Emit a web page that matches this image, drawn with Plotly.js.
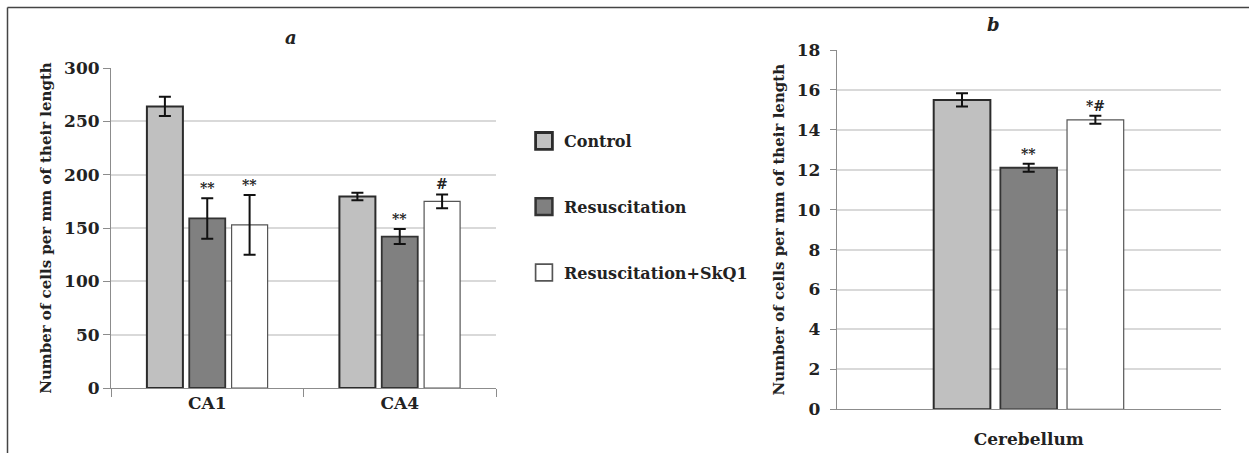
<!DOCTYPE html>
<html><head><meta charset="utf-8">
<script src="https://cdn.plot.ly/plotly-3.0.1.min.js"></script>
<style>html,body{margin:0;padding:0;background:#fff}#chart{width:1249px;height:453px}</style>
</head><body><div id="chart"></div>
<script>
// ---- data ----
const seriesNames = ['Control', 'Resuscitation', 'Resuscitation+SkQ1'];

const regionsA = ['CA1', 'CA4'];
const controlA = [264, 179.5];
const controlAErr = [9, 3.5];
const resusA = [159, 142];
const resusAErr = [19, 7];
const skq1A = [153, 175];
const skq1AErr = [28, 6.5];
const sigControlA = ['', ''];
const sigResusA = ['**', '**'];
const sigSkq1A = ['**', '#'];

const regionsB = ['Cerebellum'];
const controlB = [15.5];
const controlBErr = [0.33];
const resusB = [12.1];
const resusBErr = [0.2];
const skq1B = [14.5];
const skq1BErr = [0.2];
const sigControlB = [''];
const sigResusB = ['**'];
const sigSkq1B = ['*#'];

const yTicksA = [0, 50, 100, 150, 200, 250, 300];
const yTicksB = [0, 2, 4, 6, 8, 10, 12, 14, 16, 18];

const panelTitleA = 'a';
const panelTitleB = 'b';
const yTitle = 'Number of cells per mm of their length';

// ---- styles ----
const FONT = 'DejaVu Serif';
const fills = ['#c0c0c0', '#808080', '#ffffff'];
const outlines = ['#2b2b2b', '#333333', '#555555'];
const outlineW = [2, 1.8, 1.2];
const BARGAP = 0.34, GROUPGAP = 0.15;
const slot = (1 - BARGAP) / 3;

function barTrace(i, cats, vals, errs, xa, ya, showLegend) {
  return {
    type: 'bar', name: seriesNames[i], x: cats, y: vals,
    xaxis: xa, yaxis: ya, legendgroup: 'g' + i, showlegend: showLegend,
    marker: {color: fills[i], line: {color: outlines[i], width: outlineW[i]}},
    error_y: {type: 'data', array: errs, visible: true, color: '#111', thickness: 2, width: 6},
    hoverinfo: 'x+y'
  };
}

const traces = [
  barTrace(0, regionsA, controlA, controlAErr, 'x', 'y', true),
  barTrace(1, regionsA, resusA, resusAErr, 'x', 'y', true),
  barTrace(2, regionsA, skq1A, skq1AErr, 'x', 'y', true),
  barTrace(0, regionsB, controlB, controlBErr, 'x2', 'y2', false),
  barTrace(1, regionsB, resusB, resusBErr, 'x2', 'y2', false),
  barTrace(2, regionsB, skq1B, skq1BErr, 'x2', 'y2', false)
];

// significance marks above the error bars
const annotations = [];
function addSig(cats, vals, errs, sig, seriesIdx, xa, ya) {
  cats.forEach((c, k) => {
    if (!sig[k]) return;
    annotations.push({
      xref: xa, yref: ya, x: k + (seriesIdx - 1) * slot, y: vals[k] + errs[k],
      text: sig[k], showarrow: false, yanchor: 'bottom', xanchor: 'center', yshift: 0,
      font: {family: FONT, size: 14, color: '#222', weight: 'bold'}
    });
  });
}
addSig(regionsA, resusA, resusAErr, sigResusA, 1, 'x', 'y');
addSig(regionsA, skq1A, skq1AErr, sigSkq1A, 2, 'x', 'y');
addSig(regionsB, resusB, resusBErr, sigResusB, 1, 'x2', 'y2');
addSig(regionsB, skq1B, skq1BErr, sigSkq1B, 2, 'x2', 'y2');

annotations.push({xref: 'paper', yref: 'paper', x: 291 / 1249, y: 1 - 38 / 453, text: panelTitleA,
  xanchor: 'center', yanchor: 'middle',
  showarrow: false, font: {family: FONT, size: 18, style: 'italic', weight: 'bold', color: '#222'}});
annotations.push({xref: 'paper', yref: 'paper', x: 993 / 1249, y: 1 - 24 / 453, text: panelTitleB,
  xanchor: 'center', yanchor: 'middle',
  showarrow: false, font: {family: FONT, size: 18, style: 'italic', weight: 'bold', color: '#222'}});

const AX = '#8c8c8c', GRID = '#d9d9d9';
const yCommon = {
  showline: true, linecolor: AX, linewidth: 1, ticks: 'outside', ticklen: 7, tickcolor: AX,
  showgrid: true, gridcolor: GRID, gridwidth: 1.5, zeroline: false,
  tickfont: {family: FONT, size: 17, color: '#222', weight: 'bold'},
  title: {text: yTitle, font: {family: FONT, size: 15, color: '#222', weight: 'bold'}, standoff: 8}
};

const layout = {
  width: 1249, height: 453,
  margin: {l: 0, r: 0, t: 0, b: 0},
  paper_bgcolor: '#fff', plot_bgcolor: '#fff',
  font: {family: FONT, color: '#222', weight: 'bold'},
  barmode: 'group', bargap: BARGAP, bargroupgap: GROUPGAP,
  showlegend: true,
  legend: {x: 524 / 1249, y: 1 - 124 / 453, xanchor: 'left', yanchor: 'top',
    font: {family: FONT, size: 16, color: '#222', weight: 'bold'},
    traceorder: 'grouped', tracegroupgap: 42, bgcolor: 'rgba(0,0,0,0)'},
  xaxis: {domain: [111 / 1249, 496 / 1249], anchor: 'y', type: 'category',
    showline: true, linecolor: AX, ticks: 'outside', tickson: 'boundaries', ticklen: 8, tickcolor: AX,
    showgrid: false, tickfont: {family: FONT, size: 17, color: '#222', weight: 'bold'}},
  yaxis: Object.assign({}, yCommon, {domain: [1 - 388 / 453, 1 - 68 / 453], anchor: 'x',
    range: [0, 300], tickvals: yTicksA}),
  xaxis2: {domain: [836.7 / 1249, 1220.7 / 1249], anchor: 'y2', type: 'category',
    range: [-0.6336, 0.6336], showline: true, linecolor: AX, ticks: '', showgrid: false,
    ticklabelstandoff: 14,
    tickfont: {family: FONT, size: 17, color: '#222', weight: 'bold'}},
  yaxis2: Object.assign({}, yCommon, {domain: [1 - 409.3 / 453, 1 - 50 / 453], anchor: 'x2',
    range: [0, 18], tickvals: yTicksB, ticklabelstandoff: 6, ticklen: 6}),
  annotations: annotations,
  shapes: [
    {type: 'line', xref: 'paper', yref: 'paper', x0: 7.5 / 1249, x1: 1, y0: 1 - 7.5 / 453, y1: 1 - 7.5 / 453,
      line: {color: '#444', width: 1.5}},
    {type: 'line', xref: 'paper', yref: 'paper', x0: 7.5 / 1249, x1: 7.5 / 1249, y0: 0, y1: 1 - 7.5 / 453,
      line: {color: '#444', width: 1.5}},
    {type: 'line', xref: 'x2 domain', yref: 'y2', ysizemode: 'pixel', yanchor: 0, x0: 0, x1: 0, y0: 0, y1: -8,
      line: {color: AX, width: 1}},
    {type: 'line', xref: 'x2 domain', yref: 'y2', ysizemode: 'pixel', yanchor: 0, x0: 1, x1: 1, y0: 0, y1: -8,
      line: {color: AX, width: 1}}
  ]
};

Plotly.newPlot('chart', traces, layout, {displayModeBar: false, responsive: false}).then(function () {
  document.querySelectorAll('.legend .legendpoints path').forEach(function (p) {
    var t = p.getAttribute('transform') || '';
    p.setAttribute('transform', t + ' scale(1.4)');
  });
});
</script>
</body></html>
